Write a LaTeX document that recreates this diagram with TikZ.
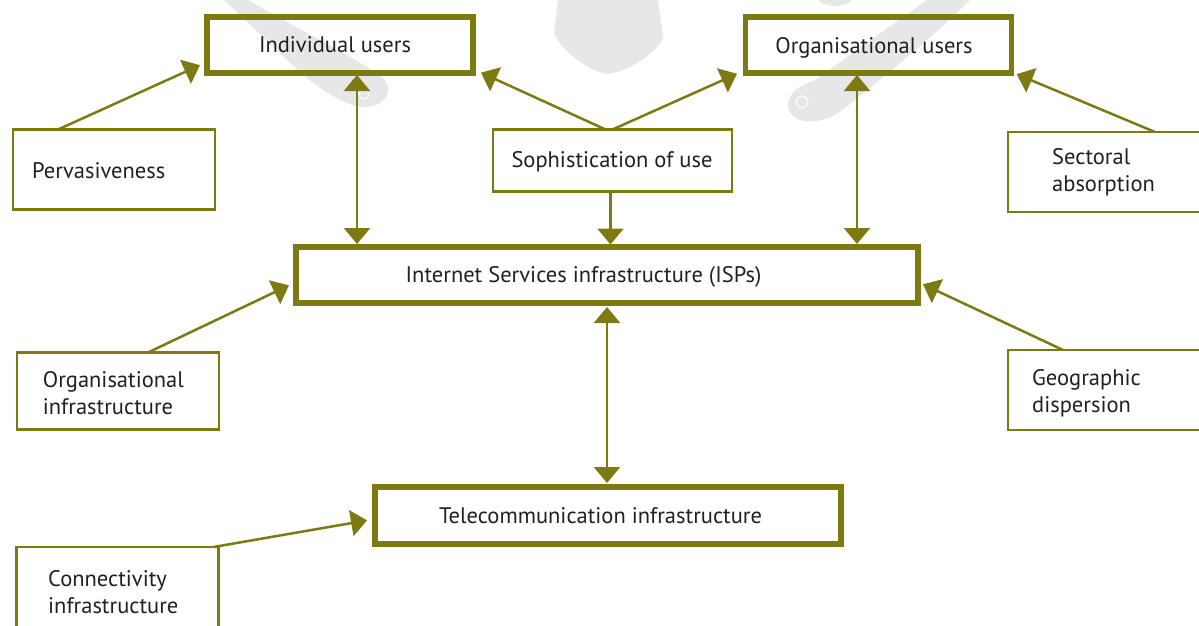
\documentclass[tikz,border=0pt]{standalone}
\usepackage{fontspec}
\setmainfont{PT Sans}
\usetikzlibrary{arrows.meta}
\definecolor{oliveline}{HTML}{7E7A12}
\definecolor{txtcol}{HTML}{231F20}
\definecolor{wmark}{HTML}{E6E7E8}
\begin{document}
\begin{tikzpicture}[x=1pt,y=-1pt,
  thickbox/.style={draw=oliveline, line width=5.5pt, inner sep=0pt, outer sep=0pt},
  thinbox/.style={draw=oliveline, line width=2.5pt, inner sep=0pt, outer sep=0pt},
  txtlbl/.style={font=\fontsize{22.5}{27}\selectfont, text=txtcol, inner sep=0pt, align=left},
  arr/.style={draw=oliveline, line width=2.5pt, -{Triangle[length=16pt,width=26pt]}},
  darr/.style={draw=oliveline, line width=2.5pt, {Triangle[length=16pt,width=26pt]}-{Triangle[length=16pt,width=26pt]}}]
\useasboundingbox (0,0) rectangle (1199,626);
% watermark
\fill[wmark] (224,0) -- (248,0) .. controls (300,30) and (360,60) .. (383,78)
  .. controls (395,90) and (385,108) .. (362,107) .. controls (345,105) and (320,90) .. (300,72) -- cycle;
\fill[wmark] (558,0) -- (554,33) .. controls (560,50) and (590,72) .. (607,74)
  .. controls (630,72) and (660,50) .. (663,37) -- (658,0) -- cycle;
\fill[wmark] (927,0) -- (970,0) .. controls (930,40) and (880,80) .. (840,112)
  .. controls (820,125) and (795,125) .. (789,110) .. controls (784,95) and (800,85) .. (815,80) -- cycle;
\fill[wmark] (818,0) .. controls (825,8) and (845,8) .. (852,0) -- cycle;
\draw[white, line width=1pt] (802,102) circle (6);
\draw[white, line width=1pt] (364,94) circle (5);
% boxes
\node[thickbox, minimum width=266pt, minimum height=56pt] (indiv) at (340,45) {};
\node[thickbox, minimum width=266pt, minimum height=56pt] (orgu) at (878.5,45) {};
\node[thickbox, minimum width=622pt, minimum height=56pt] (isp) at (607,275) {};
\node[thickbox, minimum width=466pt, minimum height=57pt] (tele) at (608,515.5) {};
\node[thinbox, minimum width=202pt, minimum height=80pt] (perv) at (114,169.5) {};
\node[thinbox, minimum width=239pt, minimum height=62pt] (soph) at (612.5,160.5) {};
\node[thinbox, minimum width=200pt, minimum height=80pt] (sect) at (1108,172) {};
\node[thinbox, minimum width=202pt, minimum height=77pt] (orginf) at (118,391) {};
\node[thinbox, minimum width=200pt, minimum height=80pt] (geo) at (1108,390) {};
\node[thinbox, minimum width=202pt, minimum height=86pt] (conn) at (117.5,590) {};
% texts
\node[txtlbl, anchor=base] (indivt) at (335,52.3) {Individual users};
\node[txtlbl, anchor=base] (orgut) at (874,53) {Organisational users};
\node[txtlbl, anchor=base] (ispt) at (583.5,282) {Internet Services infrastructure (ISPs)};
\node[txtlbl, anchor=base] (telet) at (600.5,523.3) {Telecommunication infrastructure};
\node[txtlbl, anchor=base] (sopht) at (612,167) {Sophistication of use};
\node[txtlbl, anchor=base west] (pervt) at (32,178.3) {Pervasiveness};
\node[txtlbl, anchor=base west] (sectt) at (1052,191.7) {Sectoral\\absorption};
\node[txtlbl, anchor=base west] (orginft) at (42.7,414) {Organisational\\infrastructure};
\node[txtlbl, anchor=base west] (geot) at (1032,412) {Geographic\\dispersion};
\node[txtlbl, anchor=base west] (connt) at (48,613.3) {Connectivity\\infrastructure};
% connectors
\draw[arr, shorten >=7.7pt] ([xshift=-56pt]perv.north) -- ([yshift=-17pt]indiv.west);
\draw[arr, shorten >=8.8pt] ([xshift=-7pt]soph.north) -- ([yshift=-24pt]indiv.east);
\draw[arr, shorten >=9.3pt] (soph.north) -- ([yshift=-25pt]orgu.west);
\draw[arr, shorten >=2.5pt] ([xshift=-2pt]soph.south) -- ([xshift=-2pt]soph.south |- isp.north);
\draw[darr, shorten <=2pt, shorten >=3pt] ([xshift=17pt]indiv.south) -- ([xshift=17pt]indiv.south |- isp.north);
\draw[darr, shorten <=2pt, shorten >=3pt] ([xshift=-21.5pt]orgu.south) -- ([xshift=-21.5pt]orgu.south |- isp.north);
\draw[arr, shorten >=5.6pt] ([xshift=47pt]sect.north) -- ([yshift=-27pt]orgu.east);
\draw[arr, shorten >=7.8pt] ([xshift=30pt]orginf.north) -- ([yshift=-7pt]isp.west);
\draw[arr, shorten >=5.5pt] ([xshift=-45pt]geo.north) -- ([yshift=-7pt]isp.east);
\draw[darr, shorten <=4pt, shorten >=4pt] (isp.south) -- (isp.south |- tele.north);
\draw[arr, shorten >=8.1pt] ([xshift=96pt]conn.north) -- ([yshift=-3.5pt]tele.west);
\end{tikzpicture}
\end{document}
